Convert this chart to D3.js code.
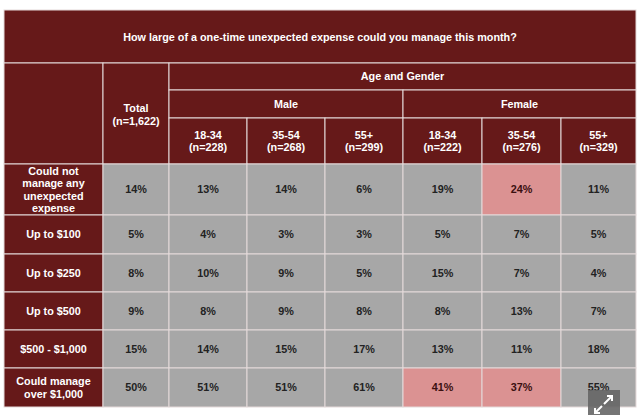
<!DOCTYPE html>
<html><head><meta charset="utf-8">
<script src="https://cdn.jsdelivr.net/npm/d3@7"></script>
<style>html,body{margin:0;padding:0;background:#fff;}svg{display:block;}</style>
</head><body>
<script>
const title = "How large of a one-time unexpected expense could you manage this month?";
const groupTitle = "Age and Gender";
const genders = ["Male", "Female"];
const columns = ["Total", "M18-34", "M35-54", "M55+", "F18-34", "F35-54", "F55+"];
const columnLabels = [["Total", "(n=1,622)"], ["18-34", "(n=228)"], ["35-54", "(n=268)"], ["55+", "(n=299)"],
                      ["18-34", "(n=222)"], ["35-54", "(n=276)"], ["55+", "(n=329)"]];
const rowLabels = [["Could not", "manage any", "unexpected", "expense"], ["Up to $100"], ["Up to $250"],
                   ["Up to $500"], ["$500 - $1,000"], ["Could manage", "over $1,000"]];
const values = [
  [14, 13, 14, 6, 19, 24, 11],
  [5, 4, 3, 3, 5, 7, 5],
  [8, 10, 9, 5, 15, 7, 4],
  [9, 8, 9, 8, 8, 13, 7],
  [15, 14, 15, 17, 13, 11, 18],
  [50, 51, 51, 61, 41, 37, 55]
];
const highlighted = [
  [0, 0, 0, 0, 0, 1, 0],
  [0, 0, 0, 0, 0, 0, 0],
  [0, 0, 0, 0, 0, 0, 0],
  [0, 0, 0, 0, 0, 0, 0],
  [0, 0, 0, 0, 0, 0, 0],
  [0, 0, 0, 0, 1, 1, 0]
];

// layout
const W = 639, H = 415;
const tLeft = 4, labelW = 99;
const colW = [66, 78, 78, 78, 79, 79, 75];
const tTop = 10, headH = [53, 27, 28, 46];
const rowH = [51, 39, 38, 38, 38, 39];
const RED = "#661919", GREY = "#a7a7a7", PINK = "#db9292", LINE = "#e4d9d9";
const FONT = "Liberation Sans, Arial, sans-serif";
const FS = 10.8, LH = 12.5;

const colStarts = d3.cumsum([tLeft + labelW].concat(colW)).slice(0, colW.length);
const x = d3.scaleOrdinal().domain(columns).range(colStarts);
const w = d3.scaleOrdinal().domain(columns).range(colW);
const headTop = d3.cumsum([tTop].concat(headH));
const dataTop = headTop[4];
const rowIdx = d3.range(rowLabels.length);
const yStarts = d3.cumsum([dataTop].concat(rowH)).slice(0, rowH.length);
const y = d3.scaleOrdinal().domain(rowIdx).range(yStarts);
const h = d3.scaleOrdinal().domain(rowIdx).range(rowH);
const tRight = colStarts[colStarts.length - 1] + colW[colW.length - 1];

const svg = d3.select("body").append("svg").attr("width", W).attr("height", H);

function cell(x0, y0, cw, ch, fill) {
  svg.append("rect").attr("x", x0).attr("y", y0).attr("width", cw).attr("height", ch)
    .attr("fill", fill).attr("stroke", LINE).attr("stroke-width", 1);
}
function label(lines, cx, cy, color) {
  const t = svg.append("text").attr("x", cx).attr("text-anchor", "middle")
    .attr("font-family", FONT).attr("font-weight", "bold").attr("font-size", FS).attr("fill", color);
  lines.forEach((s, i) => {
    t.append("tspan").attr("x", cx).attr("y", cy + (i - (lines.length - 1) / 2) * LH).attr("dy", "0.35em").text(s);
  });
}

// title row
cell(tLeft, headTop[0], tRight - tLeft, headH[0], RED);
label([title], (tLeft + tRight) / 2, headTop[0] + headH[0] / 2 + 1, "#fff");
// stub + total header
cell(tLeft, headTop[1], labelW, dataTop - headTop[1], RED);
cell(x("Total"), headTop[1], w("Total"), dataTop - headTop[1], RED);
label(columnLabels[0], x("Total") + w("Total") / 2, (headTop[1] + dataTop) / 2 + 1, "#fff");
// group row
const gx0 = x(columns[1]);
cell(gx0, headTop[1], tRight - gx0, headH[1], RED);
label([groupTitle], (gx0 + tRight) / 2, headTop[1] + headH[1] / 2, "#fff");
// gender row
genders.forEach((g, gi) => {
  const cs = columns.slice(1 + gi * 3, 4 + gi * 3);
  const x0 = x(cs[0]), x1 = x(cs[2]) + w(cs[2]);
  cell(x0, headTop[2], x1 - x0, headH[2], RED);
  label([g], (x0 + x1) / 2, headTop[2] + headH[2] / 2, "#fff");
});
// age row
columns.slice(1).forEach((c, i) => {
  cell(x(c), headTop[3], w(c), headH[3], RED);
  label(columnLabels[i + 1], x(c) + w(c) / 2, headTop[3] + headH[3] / 2, "#fff");
});
// data rows
rowIdx.forEach(r => {
  cell(tLeft, y(r), labelW, h(r), RED);
  label(rowLabels[r], tLeft + labelW / 2, y(r) + h(r) / 2, "#fff");
  columns.forEach((c, ci) => {
    cell(x(c), y(r), w(c), h(r), highlighted[r][ci] ? PINK : GREY);
    label([values[r][ci] + "%"], x(c) + w(c) / 2, y(r) + h(r) / 2, highlighted[r][ci] ? "#3a1010" : "#222");
  });
});

// expand button overlay (page chrome)
const bx = 588, by = 390;
svg.append("rect").attr("x", bx).attr("y", by).attr("width", 32).attr("height", 25).attr("fill", "#666").attr("opacity", 0.9);
const arr = svg.append("g").attr("stroke", "#fff").attr("stroke-width", 2).attr("fill", "none");
arr.append("path").attr("d", `M${bx+16},${by+14} L${bx+24},${by+6} M${bx+19},${by+6} L${bx+24},${by+6} L${bx+24},${by+11}`);
arr.append("path").attr("d", `M${bx+14},${by+16} L${bx+7},${by+23} M${bx+7},${by+18} L${bx+7},${by+23} L${bx+12},${by+23}`);
</script>
</body></html>
